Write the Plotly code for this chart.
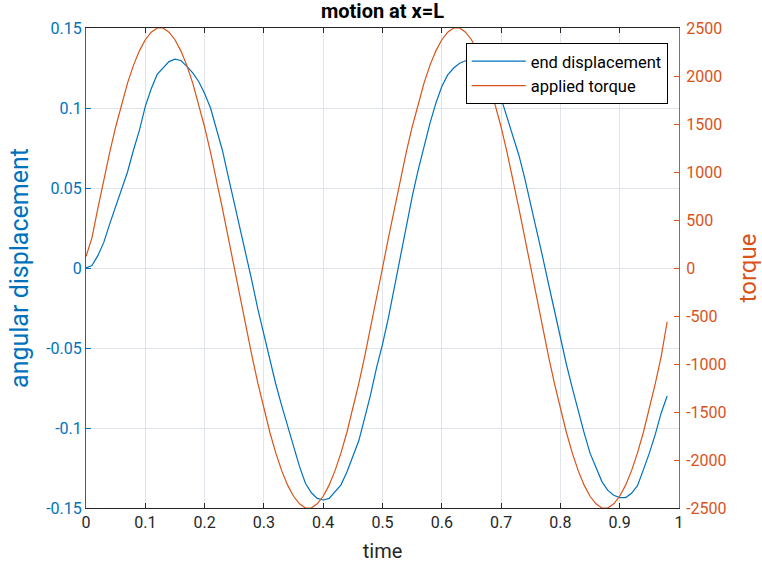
import plotly.graph_objects as go

# sample times (s)
time = [0.00, 0.01, 0.02, 0.03, 0.04, 0.05, 0.06, 0.07, 0.08, 0.09,
        0.10, 0.11, 0.12, 0.13, 0.14, 0.15, 0.16, 0.17, 0.18, 0.19,
        0.20, 0.21, 0.22, 0.23, 0.24, 0.25, 0.26, 0.27, 0.28, 0.29,
        0.30, 0.31, 0.32, 0.33, 0.34, 0.35, 0.36, 0.37, 0.38, 0.39,
        0.40, 0.41, 0.42, 0.43, 0.44, 0.45, 0.46, 0.47, 0.48, 0.49,
        0.50, 0.51, 0.52, 0.53, 0.54, 0.55, 0.56, 0.57, 0.58, 0.59,
        0.60, 0.61, 0.62, 0.63, 0.64, 0.65, 0.66, 0.67, 0.68, 0.69,
        0.70, 0.71, 0.72, 0.73, 0.74, 0.75, 0.76, 0.77, 0.78, 0.79,
        0.80, 0.81, 0.82, 0.83, 0.84, 0.85, 0.86, 0.87, 0.88, 0.89,
        0.90, 0.91, 0.92, 0.93, 0.94, 0.95, 0.96, 0.97, 0.98]

# end displacement (rad)
end_displacement = [
    0.000, 0.0015, 0.0077, 0.016, 0.0276, 0.038, 0.0496, 0.060, 0.0736, 0.086,
    0.101, 0.112, 0.121, 0.125, 0.129, 0.1305, 0.1297, 0.126, 0.122, 0.1166,
    0.109, 0.100, 0.087, 0.0736, 0.057, 0.041, 0.025, 0.0085, -0.0085, -0.026,
    -0.042, -0.058, -0.0725, -0.086, -0.099, -0.112, -0.124, -0.1345, -0.1405, -0.144,
    -0.145, -0.144, -0.140, -0.1355, -0.1275, -0.118, -0.108, -0.0937, -0.079, -0.0623,
    -0.0477, -0.031, -0.0121, 0.0088, 0.0276, 0.0444, 0.061, 0.0757, 0.0904, 0.103,
    0.1134, 0.1207, 0.125, 0.128, 0.1295, 0.1295, 0.1275, 0.124, 0.119, 0.1135,
    0.106, 0.0946, 0.083, 0.0705, 0.0559, 0.040, 0.024, 0.007, -0.010, -0.027,
    -0.0435, -0.060, -0.0749, -0.0895, -0.103, -0.1157, -0.125, -0.1335, -0.139, -0.142,
    -0.1435, -0.1435, -0.1408, -0.136, -0.126, -0.1157, -0.104, -0.0906, -0.080]

# applied torque
applied_torque = [
    120, 313, 622, 920, 1205, 1469, 1711, 1926, 2111, 2262,
    2378, 2456, 2500, 2500, 2456, 2378, 2262, 2111, 1926, 1711,
    1469, 1205, 920, 622, 313, 0, -313, -622, -920, -1205,
    -1469, -1711, -1926, -2111, -2262, -2378, -2456, -2500, -2500, -2456,
    -2378, -2262, -2111, -1926, -1711, -1469, -1205, -920, -622, -313,
    0, 313, 622, 920, 1205, 1469, 1711, 1926, 2111, 2262,
    2378, 2456, 2500, 2500, 2456, 2378, 2262, 2111, 1926, 1711,
    1469, 1205, 920, 622, 313, 0, -313, -622, -920, -1205,
    -1469, -1711, -1926, -2111, -2262, -2378, -2456, -2500, -2500, -2456,
    -2378, -2262, -2111, -1926, -1711, -1469, -1205, -920, -560]

x_ticks = [0, 0.1, 0.2, 0.3, 0.4, 0.5, 0.6, 0.7, 0.8, 0.9, 1]
x_tick_labels = ["0", "0.1", "0.2", "0.3", "0.4", "0.5", "0.6", "0.7", "0.8", "0.9", "1"]
left_ticks = [-0.15, -0.1, -0.05, 0, 0.05, 0.1, 0.15]
left_tick_labels = ["-0.15", "-0.1", "-0.05", "0", "0.05", "0.1", "0.15"]
right_ticks = [-2500, -2000, -1500, -1000, -500, 0, 500, 1000, 1500, 2000, 2500]
right_tick_labels = ["-2500", "-2000", "-1500", "-1000", "-500", "0", "500",
                     "1000", "1500", "2000", "2500"]

BLUE = "#0072BD"
ORANGE = "#D95319"
DARK = "#262626"
GRID = "#dfe4ea"
FONT = "Roboto"

fig = go.Figure()
fig.add_trace(go.Scatter(x=time, y=end_displacement, mode="lines",
                         name="end displacement",
                         line=dict(color=BLUE, width=1.2), yaxis="y"))
fig.add_trace(go.Scatter(x=time, y=applied_torque, mode="lines",
                         name="applied torque",
                         line=dict(color=ORANGE, width=1.2), yaxis="y2"))

fig.update_layout(
    width=762, height=566,
    margin=dict(l=86, r=83, t=28, b=58, autoexpand=False),
    paper_bgcolor="white", plot_bgcolor="white",
    font=dict(family=FONT, size=16, color=DARK),
    title=dict(text="<b>motion at x=L</b>", x=0.5, xanchor="center",
               y=0.981, yanchor="middle", xref="paper",
               font=dict(family=FONT, size=20, color="black")),
    showlegend=True,
    legend=dict(x=0.981, y=0.969, xanchor="right", yanchor="top",
                bgcolor="white", bordercolor="black", borderwidth=1,
                font=dict(family=FONT, size=16.5, color="black"),
                tracegroupgap=0, itemwidth=54),
    xaxis=dict(range=[0, 1], tickvals=x_ticks, ticktext=x_tick_labels,
               showgrid=True, gridcolor=GRID, gridwidth=1, zeroline=False,
               showline=True, linecolor=DARK, linewidth=1, mirror="ticks",
               ticks="inside", ticklen=5, tickcolor=DARK, automargin=False,
               tickfont=dict(family=FONT, size=16, color=DARK),
               title=dict(text="time", standoff=12,
                          font=dict(family=FONT, size=20, color=DARK))),
    yaxis=dict(range=[-0.15, 0.15], tickvals=left_ticks, ticktext=left_tick_labels,
               showgrid=True, gridcolor=GRID, gridwidth=1, zeroline=False,
               showline=True, linecolor=BLUE, linewidth=1, automargin=False,
               ticks="inside", ticklen=5, tickcolor=BLUE,
               tickfont=dict(family=FONT, size=16, color=BLUE),
               title=dict(text="angular displacement", standoff=10,
                          font=dict(family=FONT, size=25, color=BLUE))),
    yaxis2=dict(range=[-2500, 2500], tickvals=right_ticks, ticktext=right_tick_labels,
                overlaying="y", side="right", anchor="x", automargin=False,
                showgrid=False, zeroline=False,
                showline=True, linecolor=ORANGE, linewidth=1,
                ticks="inside", ticklen=5, tickcolor=ORANGE,
                ticklabelstandoff=3,
                tickfont=dict(family=FONT, size=16, color=ORANGE),
                title=dict(text="torque", standoff=26,
                           font=dict(family=FONT, size=24, color=ORANGE))),
)

fig.write_html("out.html", config={"displayModeBar": False},
               post_script="document.body.style.margin='0';document.body.style.padding='0';")
